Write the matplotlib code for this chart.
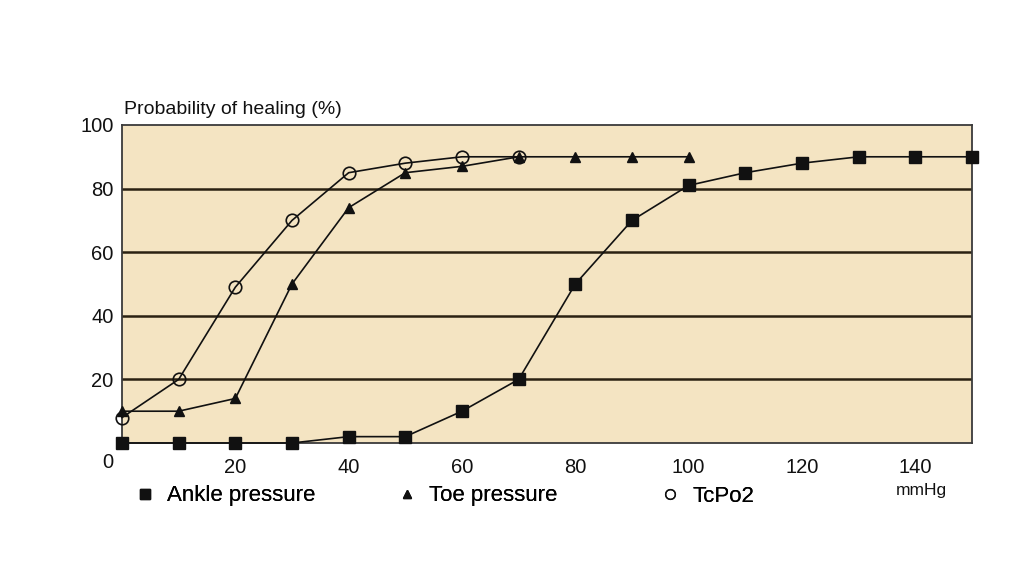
import matplotlib.pyplot as plt
from matplotlib.lines import Line2D

plt.rcParams['font.family'] = ['Liberation Sans', 'DejaVu Sans']

x_ankle = [0, 10, 20, 30, 40, 50, 60, 70, 80, 90, 100, 110, 120, 130, 140, 150]
ankle = [0, 0, 0, 0, 2, 2, 10, 20, 50, 70, 81, 85, 88, 90, 90, 90]

x_toe = [0, 10, 20, 30, 40, 50, 60, 70, 80, 90, 100]
toe = [10, 10, 14, 50, 74, 85, 87, 90, 90, 90, 90]

x_tcpo2 = [0, 10, 20, 30, 40, 50, 60, 70]
tcpo2 = [8, 20, 49, 70, 85, 88, 90, 90]

x_ticks = [20, 40, 60, 80, 100, 120, 140]
y_ticks = [20, 40, 60, 80, 100]

bg = '#F4E4C2'
ink = '#111111'

fig = plt.figure(figsize=(10.24, 5.66), dpi=100)
ax = fig.add_axes([122 / 1024, 1 - 443 / 566, 850 / 1024, 318 / 566])
ax.set_facecolor(bg)

for yv in [20, 40, 60, 80]:
    ax.axhline(yv, color='#2a2112', lw=1.8, zorder=1)

ax.plot(x_ankle, ankle, color=ink, lw=1.2, marker='s', ms=8, mfc=ink, mec=ink,
        clip_on=False, zorder=3)
ax.plot(x_toe, toe, color=ink, lw=1.2, marker='^', ms=7, mfc=ink, mec=ink,
        clip_on=False, zorder=4)
ax.plot(x_tcpo2, tcpo2, color=ink, lw=1.2, marker='o', ms=9, mfc='none', mec=ink,
        mew=1.2, clip_on=False, zorder=5)

ax.set_xlim(0, 150)
ax.set_ylim(0, 100)
ax.set_xticks(x_ticks)
ax.set_yticks(y_ticks)
ax.tick_params(length=0, labelsize=14.5, colors=ink)
ax.tick_params(axis='x', pad=11)
ax.tick_params(axis='y', pad=6)
for s in ax.spines.values():
    s.set_color('#3a3a3a')
    s.set_linewidth(1.3)

fig.text(108 / 1024, 1 - 462 / 566, '0', ha='center', va='center', fontsize=14.5, color=ink)
fig.text(124 / 1024, 1 - 118 / 566, 'Probability of healing (%)', ha='left', va='bottom',
         fontsize=14, color=ink)
fig.text(921 / 1024, 1 - 490 / 566, 'mmHg', ha='center', va='center', fontsize=12.5, color=ink)

handles = [
    Line2D([], [], ls='none', marker='s', ms=7, color=ink, label='Ankle pressure'),
    Line2D([], [], ls='none', marker='^', ms=6, color=ink, label='Toe pressure'),
    Line2D([], [], ls='none', marker='o', ms=7, mfc='none', mec=ink, label='TcPo2'),
]
legend_x = [134, 396, 659]
for h, lx in zip(handles, legend_x):
    leg = fig.legend(handles=[h], loc='center left', bbox_to_anchor=(lx / 1024, 1 - 496 / 566),
                     frameon=False, fontsize=16, handlelength=1.0, handletextpad=0.5,
                     borderaxespad=0, borderpad=0)
    fig.add_artist(leg)

fig.savefig('out.png', dpi=100, facecolor='white')
